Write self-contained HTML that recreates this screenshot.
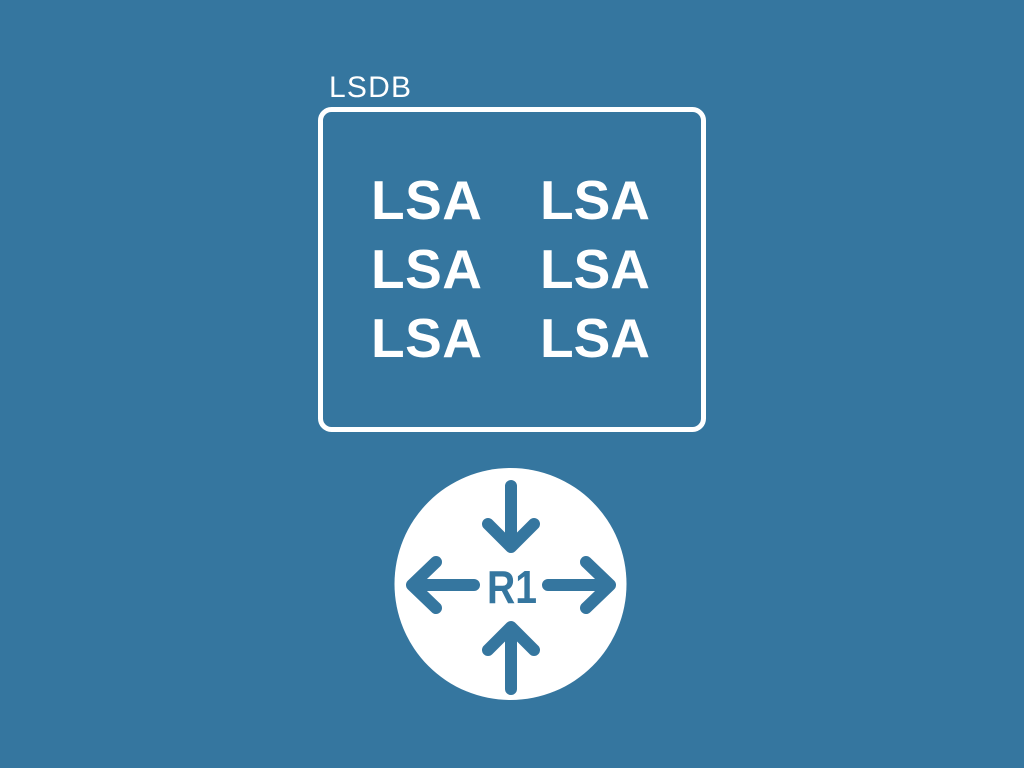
<!DOCTYPE html>
<html><head><style>
body{margin:0;width:1024px;height:768px;background:#35769f;overflow:hidden}
</style></head><body>
<svg width="1024" height="768" xmlns="http://www.w3.org/2000/svg" style="position:absolute;left:0;top:0">
<text x="329" y="97" font-family="Liberation Sans, sans-serif" font-size="30" fill="#fff" textLength="82">LSDB</text>
<rect x="320.5" y="109.5" width="383" height="320" rx="11" fill="none" stroke="#fff" stroke-width="5"/>
<g font-family="Liberation Sans, sans-serif" font-size="55" font-weight="bold" fill="#fff">
<text x="371" y="219" textLength="111">LSA</text><text x="540" y="219" textLength="110">LSA</text>
<text x="371" y="288" textLength="111">LSA</text><text x="540" y="288" textLength="110">LSA</text>
<text x="371" y="357" textLength="111">LSA</text><text x="540" y="357" textLength="110">LSA</text>
</g>
<circle cx="510.5" cy="584" r="116" fill="#fff"/>
<g stroke="#35769f" stroke-width="12" stroke-linecap="round" stroke-linejoin="round" fill="none">
<path d="M511 486V546M488 524L511 547L534 524"/>
<path d="M511 689V628M488 650L511 627L534 650"/>
<path d="M474 585H412M436 562L412 585L436 608"/>
<path d="M548 585H610M586 562L610 585L586 608"/>
</g>
<text x="487" y="603" font-family="Liberation Sans, sans-serif" font-size="46" font-weight="bold" fill="#35769f" textLength="50" lengthAdjust="spacingAndGlyphs">R1</text>
</svg>
</body></html>
